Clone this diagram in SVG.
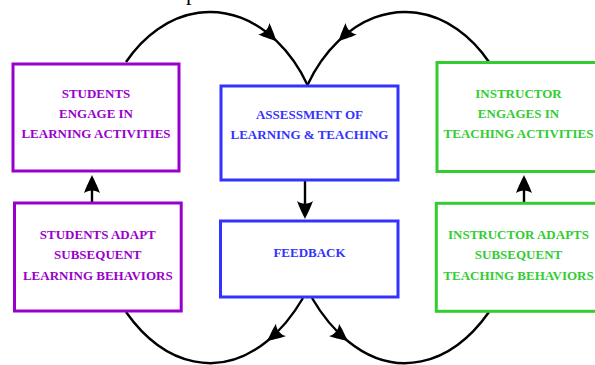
<svg xmlns="http://www.w3.org/2000/svg" width="595" height="365" viewBox="0 0 595 365">
  <style>
    .box { fill: #ffffff; stroke-width: 3; }
    .lbl { font-family: "Liberation Serif", "Times New Roman", serif; font-weight: bold; font-size: 13px; text-anchor: middle; }
    .stu rect { stroke: #9900cc; }
    .stu text { fill: #9900cc; }
    .mid rect { stroke: #3333ff; }
    .mid text { fill: #3333ff; }
    .ins rect { stroke: #33cc33; }
    .ins text { fill: #33cc33; }
    .wire { fill: none; stroke: #000000; stroke-width: 2.4; }
  </style>
  <defs>
    <!-- arrowhead whose tip sits on the vertex (used mid-curve) -->
    <marker id="head" markerUnits="userSpaceOnUse" viewBox="-19 -9 20 18" markerWidth="20" markerHeight="18" refX="0" refY="0" orient="auto">
      <path d="M0,0 C-4,-1.8 -11,-5.5 -18,-8 C-14.5,-3 -14.5,3 -18,8 C-11,5.5 -4,1.8 0,0 Z" fill="#000000"/>
    </marker>
    <!-- arrowhead whose tip lies 8 units past the end of the line -->
    <marker id="tip" markerUnits="userSpaceOnUse" viewBox="-19 -9 20 18" markerWidth="20" markerHeight="18" refX="-8" refY="0" orient="auto">
      <path d="M0,0 C-4,-1.8 -11,-5.5 -18,-8 C-14.5,-3 -14.5,3 -18,8 C-11,5.5 -4,1.8 0,0 Z" fill="#000000"/>
    </marker>
  </defs>

  <rect width="595" height="365" fill="#ffffff"/>

  <!-- lower part of a glyph cut off by the top edge -->
  <text x="186" y="0" font-family="Liberation Serif, serif" font-size="22" fill="#000000">p</text>

  <g id="connectors">
    <path class="wire" marker-mid="url(#head)" d="M126,62 A115,157.7 0 0 1 276.7,41.2 A115,157.7 0 0 1 307.5,85"/>
    <path class="wire" marker-mid="url(#head)" d="M489,62 A115,157.7 0 0 0 338.3,41.2 A115,157.7 0 0 0 307.5,85"/>
    <path class="wire" marker-mid="url(#head)" d="M303,298 A128,208.6 0 0 1 267,341.2 A128,208.6 0 0 1 126,312"/>
    <path class="wire" marker-mid="url(#head)" d="M312,298 A128,208.6 0 0 0 348,341.2 A128,208.6 0 0 0 489,312"/>
    <path class="wire" marker-end="url(#tip)" d="M92,202 L92,183"/>
    <path class="wire" marker-end="url(#tip)" d="M305,181 L305,211"/>
    <path class="wire" marker-end="url(#tip)" d="M524,202 L524,183"/>
  </g>

  <g id="students-engage" class="stu">
    <rect class="box" x="13" y="64" width="166" height="107"/>
    <text class="lbl" x="96" y="97.5">STUDENTS</text>
    <text class="lbl" x="96" y="117.5">ENGAGE IN</text>
    <text class="lbl" x="96" y="138">LEARNING ACTIVITIES</text>
  </g>

  <g id="students-adapt" class="stu">
    <rect class="box" x="14.5" y="203" width="166.7" height="108"/>
    <text class="lbl" x="97.8" y="238.5">STUDENTS ADAPT</text>
    <text class="lbl" x="97.8" y="259">SUBSEQUENT</text>
    <text class="lbl" x="97.8" y="280">LEARNING BEHAVIORS</text>
  </g>

  <g id="assessment" class="mid">
    <rect class="box" x="221" y="86" width="177" height="94"/>
    <text class="lbl" x="309.5" y="118.5">ASSESSMENT OF</text>
    <text class="lbl" x="309.5" y="139">LEARNING &amp; TEACHING</text>
  </g>

  <g id="feedback" class="mid">
    <rect class="box" x="220.5" y="221" width="177.5" height="76"/>
    <text class="lbl" x="309.5" y="257">FEEDBACK</text>
  </g>

  <g id="instructor-engages" class="ins">
    <rect class="box" x="437" y="62.5" width="164" height="109"/>
    <text class="lbl" x="518.5" y="97.5">INSTRUCTOR</text>
    <text class="lbl" x="518.5" y="117.5">ENGAGES IN</text>
    <text class="lbl" x="518.5" y="138">TEACHING ACTIVITIES</text>
  </g>

  <g id="instructor-adapts" class="ins">
    <rect class="box" x="436.3" y="203.3" width="164.7" height="108"/>
    <text class="lbl" x="518.5" y="238.5">INSTRUCTOR ADAPTS</text>
    <text class="lbl" x="518.5" y="259">SUBSEQUENT</text>
    <text class="lbl" x="518.5" y="280">TEACHING BEHAVIORS</text>
  </g>
</svg>
